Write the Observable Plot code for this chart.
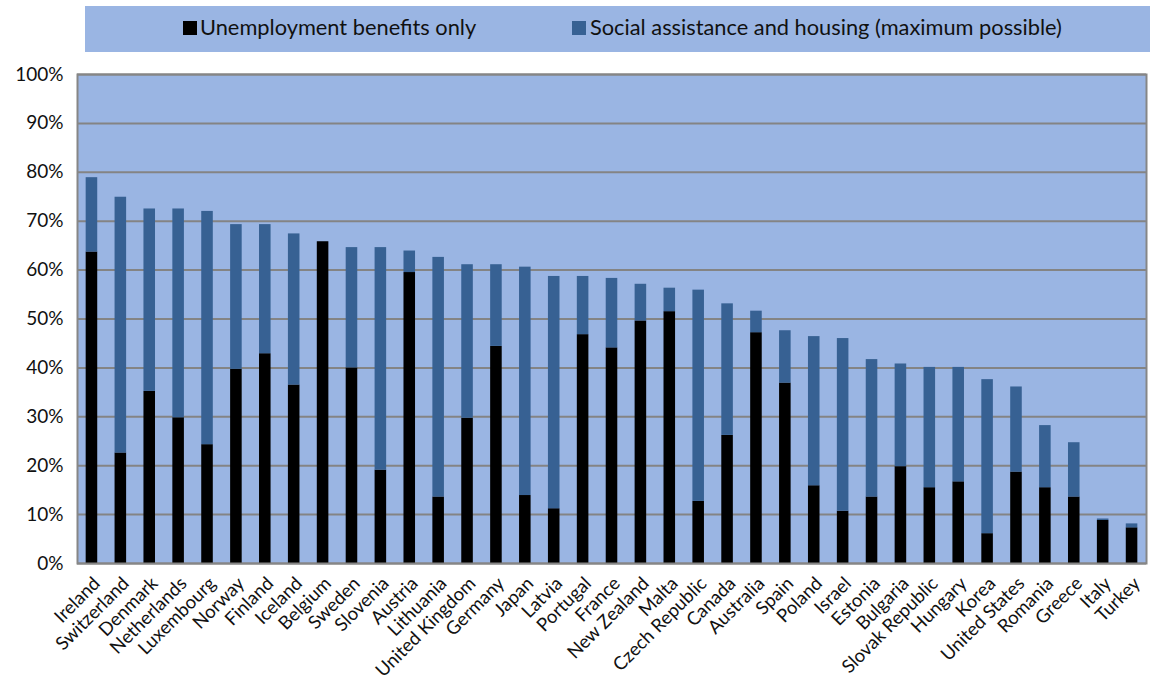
<!DOCTYPE html>
<html>
<head>
<meta charset="utf-8">
<script src="https://cdn.jsdelivr.net/npm/d3@7"></script>
<script src="https://cdn.jsdelivr.net/npm/@observablehq/plot@0.6"></script>
<style>
  body { margin: 0; background: #fff; font-family: Lato, "Open Sans", sans-serif; }
  #legend { position: relative; margin-left: 85px; margin-top: 6px; width: 1065px; height: 46px; background: #9ab5e3; }
  #legend .sw { position: absolute; top: 15px; width: 14px; height: 14px; }
  #legend .lb { position: absolute; top: 9px; font-size: 21.8px; line-height: 24px; color: #111; white-space: nowrap; }
  #chart svg { display: block; }
</style>
</head>
<body>
<div id="legend"></div>
<div id="chart"></div>
<script>
const countries = ["Ireland","Switzerland","Denmark","Netherlands","Luxembourg","Norway","Finland","Iceland","Belgium","Sweden","Slovenia","Austria","Lithuania","United Kingdom","Germany","Japan","Latvia","Portugal","France","New Zealand","Malta","Czech Republic","Canada","Australia","Spain","Poland","Israel","Estonia","Bulgaria","Slovak Republic","Hungary","Korea","United States","Romania","Greece","Italy","Turkey"];
// Unemployment benefits only (share)
const unemployment = [63.7,22.6,35.2,29.8,24.3,39.7,42.9,36.5,65.8,40.0,19.1,59.5,13.6,29.7,44.4,13.9,11.2,46.8,44.1,49.6,51.5,12.7,26.2,47.2,36.9,15.9,10.7,13.6,19.8,15.5,16.7,6.1,18.7,15.5,13.6,8.8,7.3];
// Total with social assistance and housing (maximum possible)
const totalMax = [78.9,74.9,72.5,72.5,72.0,69.3,69.3,67.4,65.8,64.6,64.6,63.9,62.6,61.1,61.1,60.6,58.7,58.7,58.3,57.1,56.3,55.9,53.1,51.6,47.6,46.4,46.0,41.7,40.8,40.1,40.1,37.6,36.1,28.2,24.7,9.1,8.1];
const seriesNames = ["Unemployment benefits only","Social assistance and housing (maximum possible)"];
const seriesColors = ["#000000","#376193"];
const yTicks = [0,0.1,0.2,0.3,0.4,0.5,0.6,0.7,0.8,0.9,1.0];

const rows = [];
countries.forEach((c, i) => {
  rows.push({country: c, series: seriesNames[0], value: unemployment[i] / 100});
  rows.push({country: c, series: seriesNames[1], value: (totalMax[i] - unemployment[i]) / 100});
});

// Legend
const legend = document.getElementById("legend");
const legendPos = [[98, 115], [487, 505]];
seriesNames.forEach((name, i) => {
  const sw = document.createElement("div");
  sw.className = "sw"; sw.style.left = legendPos[i][0] + "px"; sw.style.background = seriesColors[i];
  const lb = document.createElement("div");
  lb.className = "lb"; lb.style.left = legendPos[i][1] + "px"; lb.textContent = name;
  legend.appendChild(sw); legend.appendChild(lb);
});

const chart = Plot.plot({
  width: 1152,
  height: 633,
  marginTop: 22,
  marginBottom: 122,
  marginLeft: 77,
  marginRight: 6,
  style: {fontFamily: "Lato, 'Open Sans', sans-serif", fontSize: "17px", color: "#111", background: "#fff"},
  x: {domain: countries, paddingInner: 0.6, paddingOuter: 0.3, tickRotate: -45, tickSize: 0, tickPadding: 6, label: null},
  y: {domain: [0, 1], ticks: yTicks, tickFormat: d3.format(".0%"), tickSize: 0, tickPadding: 15, label: null},
  color: {domain: seriesNames, range: seriesColors},
  marks: [
    Plot.frame({fill: "#9ab5e3", stroke: null}),
    Plot.ruleY(yTicks, {stroke: "#848484", strokeWidth: 2}),
    Plot.barY(rows, {x: "country", y: "value", fill: "series", order: seriesNames}),
    Plot.frame({stroke: "#868686", strokeWidth: 2}),
    Plot.axisY({ticks: yTicks, tickFormat: d3.format(".0%"), tickSize: 0, tickPadding: 14, fontSize: 19}),
    Plot.axisX({tickRotate: -45, tickSize: 0, tickPadding: 12, fontSize: 18.5, dx: 5, dy: 5})
  ]
});
document.getElementById("chart").appendChild(chart);
</script>
</body>
</html>
